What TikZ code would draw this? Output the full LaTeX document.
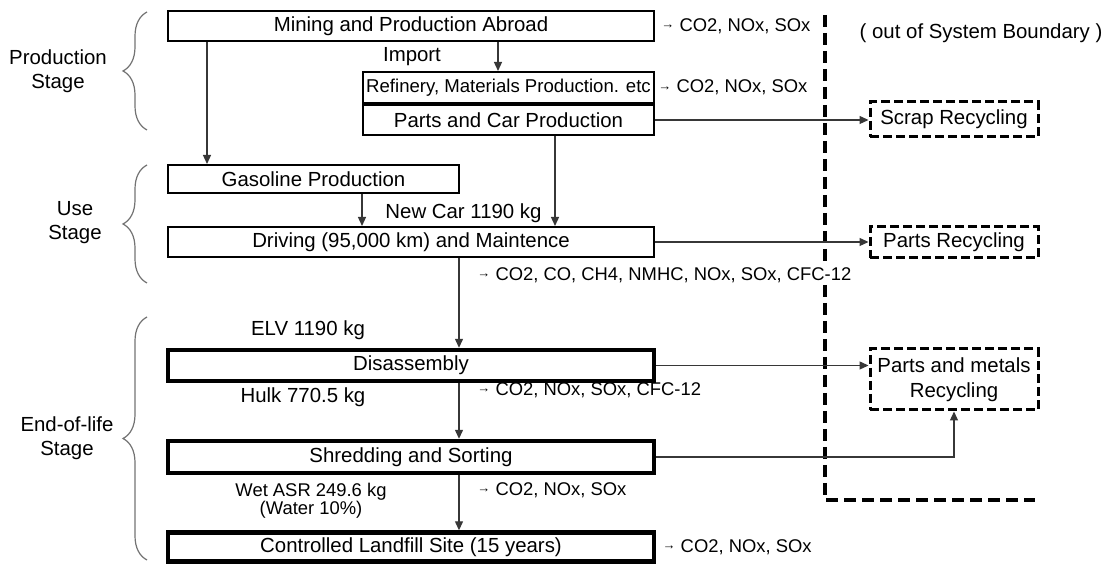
\documentclass[tikz,border=0pt]{standalone}
\usepackage{fontspec}
\setmainfont{Liberation Sans}
\usepackage{tikz}
\usetikzlibrary{arrows.meta,positioning,calc,decorations.pathreplacing}
\definecolor{linegray}{RGB}{55,55,55}
\definecolor{bracegray}{RGB}{115,115,115}
\newcommand{\emitarrow}{\raisebox{1.3pt}{\fontsize{6.5}{6.5}\selectfont →}}

\begin{document}
\begin{tikzpicture}[x=0.5pt,y=-0.5pt,
  box/.style={draw,line width=1pt,minimum width=243pt,minimum height=15pt,
    inner sep=0pt,font=\fontsize{10.2}{12}\selectfont},
  heavybox/.style={box,line width=2.2pt},
  outbox/.style={draw,line width=1.5pt,dash pattern=on 4.5pt off 2pt,minimum width=84pt,
    inner sep=0pt,align=center,font=\fontsize{10.2}{12.5}\selectfont},
  lbl/.style={inner sep=0pt,align=center,font=\fontsize{10.2}{12}\selectfont},
  emis/.style={inner sep=0pt,anchor=west,font=\fontsize{9.2}{11}\selectfont},
  arr/.style={-{Triangle[length=4.5pt,width=4pt]},line width=0.65pt,draw=linegray},
  stagebrace/.style={decorate,decoration={brace,amplitude=12pt},draw=bracegray,line width=0.6pt},
  boundary/.style={line width=2pt,dash pattern=on 6pt off 3pt}
]
\useasboundingbox (0,0) rectangle (1108,565);
\draw[boundary] (825,15) -- (825,500) -- (1035,500);

\node[lbl] (prodstage) at (58,71) {Production\\Stage};
\node[lbl] (usestage) at (75,223) {Use\\Stage};
\node[lbl] (eolstage) at (67,438) {End-of-life\\Stage};
\draw[stagebrace] (147,130) -- (147,12);
\draw[stagebrace] (147,283) -- (147,165);
\draw[stagebrace] (147,560) -- (147,317);

\node[box] (mine) at (411,26) {Mining and Production Abroad};
\node[emis,right=3pt of mine] (mineout) {\emitarrow\ CO2, NOx, SOx};
\node[lbl] (import) at (412,57) {Import};
\node[box,minimum width=145.5pt,minimum height=15.5pt,font=\fontsize{9.3}{11}\selectfont] (refine) at (508.5,87.5) {Refinery, Materials Production. etc};
\node[emis,right=1.5pt of refine] (refineout) {\emitarrow\ CO2, NOx, SOx};
\node[box,minimum width=145.5pt,below=0pt of refine] (cars) {Parts and Car Production};
\node[box,minimum width=145.5pt,minimum height=14pt] (gas) at (313.5,179) {Gasoline Production};
\node[lbl] (newcar) at (463.5,213) {New Car 1190 kg};
\node[box] (drive) at (411,242) {Driving (95,000 km) and Maintence};
\node[emis,fill=white] (driveout) at (477,275) {\emitarrow\ CO2, CO, CH4, NMHC, NOx, SOx, CFC-12};
\node[lbl] (elv) at (308,330) {ELV 1190 kg};
\node[heavybox,minimum height=15.5pt] (disasm) at (411,365.5) {Disassembly};
\node[lbl] (hulk) at (303,397) {Hulk 770.5 kg};
\node[emis] (disout) at (477,390) {\emitarrow\ CO2, NOx, SOx, CFC-12};
\node[heavybox,minimum height=16pt] (shred) at (411,457) {Shredding and Sorting};
\node[lbl,font=\fontsize{9.2}{9}\selectfont] (asr) at (311,501) {Wet ASR 249.6 kg\\(Water 10\%)};
\node[emis] (shredout) at (477,490) {\emitarrow\ CO2, NOx, SOx};
\node[heavybox,minimum height=14.5pt] (fill) at (411,547) {Controlled Landfill Site (15 years)};
\node[emis,right=3pt of fill] (fillout) {\emitarrow\ CO2, NOx, SOx};

\node[lbl] (outside) at (981,33) {( out of System Boundary )};
\node[outbox,minimum height=17.5pt] (scrap) at (954,119.5) {Scrap Recycling};
\node[outbox,minimum height=15.5pt] (partsrec) at (954,242.5) {Parts Recycling};
\node[outbox,minimum height=30.5pt] (metalrec) at (954,379.5) {Parts and metals\\Recycling};

\draw[arr] ($(mine.south west)+(40,0)$) -- ($(gas.north west)+(40,0)$);
\draw[arr] ($(mine.south -| refine.north)+(-10.5,0)$) -- ($(refine.north)+(-10.5,0)$);
\draw[arr] ($(cars.south)+(46.5,0)$) -- ($(cars.south |- drive.north)+(46.5,0)$);
\draw[arr] ($(gas.south)+(48.5,0)$) -- ($(gas.south |- drive.north)+(48.5,0)$);
\draw[arr] (cars.east) -- (cars.east -| scrap.west);
\draw[arr] (drive.east) -- (drive.east -| partsrec.west);
\draw[arr] ($(drive.south)+(48,0)$) -- ($(disasm.north)+(48,0)$);
\draw[arr] (disasm.east) -- (disasm.east -| metalrec.west);
\draw[arr] ($(disasm.south)+(48,0)$) -- ($(shred.north)+(48,0)$);
\draw[arr] (shred.east) -| (metalrec.south);
\draw[arr] ($(shred.south)+(48,0)$) -- ($(fill.north)+(48,0)$);
\end{tikzpicture}
\end{document}
